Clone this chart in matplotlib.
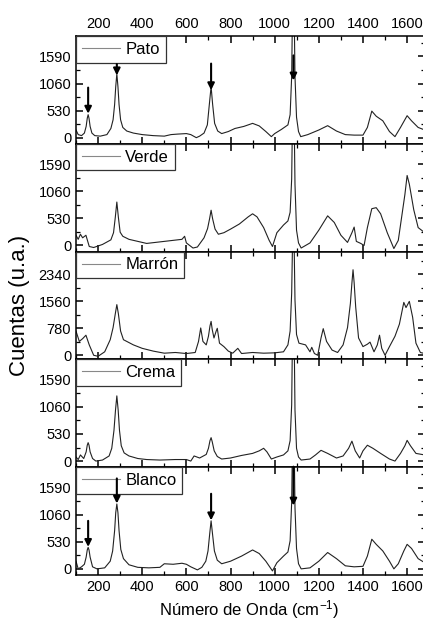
import matplotlib.pyplot as plt
from matplotlib.ticker import MultipleLocator

plt.rcParams['font.family'] = ['Liberation Sans', 'DejaVu Sans']
plt.rcParams['mathtext.default'] = 'regular'

# spectra (x in cm-1, y in counts)
pato_x = [100, 110, 125, 138, 146, 151, 155, 159, 164, 172, 185, 210, 240, 258, 268, 275, 280, 285, 290, 295,
          302, 312, 330, 360, 400, 450, 500, 530, 560, 600, 620, 645, 660, 680, 695, 704, 712, 719, 728, 742,
          760, 790, 820, 860, 900, 930, 960, 985, 1000, 1030, 1060, 1070, 1077, 1081, 1088, 1092, 1099, 1108,
          1118, 1150, 1200, 1240, 1280, 1320, 1360, 1400, 1420, 1440, 1460, 1490, 1520, 1545, 1570, 1600,
          1620, 1650, 1680]
pato_y = [150, 60, 40, 90, 220, 380, 450, 380, 220, 90, 40, 30, 60, 180, 350, 650, 1000, 1250, 1000, 650,
          350, 200, 130, 90, 60, 40, 30, 60, 70, 80, 60, 0, 30, 90, 250, 650, 1000, 650, 280, 130,
          80, 120, 180, 220, 280, 230, 120, 20, 80, 160, 250, 450, 1200, 2600, 2600, 1200, 400, 120,
          20, 60, 150, 235, 130, 60, 50, 50, 200, 520, 420, 330, 120, 20, 200, 430,
          330, 200, 150]

verde_x = [100, 110, 120, 130, 145, 160, 180, 220, 258, 270, 278, 285, 292, 300, 312, 340, 380, 420, 460, 500,
           540, 580, 592, 600, 630, 650, 680, 696, 705, 712, 719, 730, 745, 770, 800, 840, 880, 900, 920, 950,
           975, 990, 1010, 1040, 1060, 1070, 1077, 1081, 1088, 1092, 1099, 1108, 1120, 1160, 1200, 1240, 1270,
           1300, 1330, 1350, 1360, 1370, 1390, 1405, 1420, 1440, 1460, 1480, 1510, 1540, 1560, 1580, 1590,
           1600, 1610, 1630, 1650, 1680]
verde_y = [200, 120, 220, 150, 200, -20, -40, 20, 110, 250, 550, 850, 550, 260, 180, 120, 80, 40, 60, 80,
           100, 120, 180, 50, -50, -30, 150, 330, 520, 690, 520, 320, 220, 250, 320, 420, 560, 620, 560, 350,
           100, -20, 250, 400, 480, 650, 1300, 2600, 2600, 1200, 300, 50, -50, 50, 300, 580, 450,
           200, 60, 250, 360, 80, 40, 0, 350, 720, 740, 620, 250, -60, 100, 700, 1000,
           1370, 1200, 700, 350, 250]

marron_x = [100, 115, 130, 145, 160, 180, 200, 230, 255, 268, 278, 285, 292, 302, 315, 330, 360, 400, 450, 500,
            550, 600, 640, 655, 665, 675, 690, 700, 707, 712, 717, 725, 735, 740, 750, 770, 790, 810, 833, 850,
            900, 950, 1000, 1040, 1060, 1070, 1077, 1081, 1088, 1092, 1099, 1110, 1140, 1160, 1168, 1180, 1195,
            1210, 1220, 1235, 1260, 1285, 1310, 1330, 1343, 1350, 1355, 1360, 1367, 1380, 1400, 1420, 1432, 1450,
            1465, 1475, 1485, 1500, 1520, 1545, 1565, 1585, 1595, 1610, 1625, 1640, 1660, 1680]
marron_y = [700, 400, 480, 580, 300, 0, -30, 100, 450, 800, 1200, 1465, 1200, 700, 450, 400, 300, 200, 120, 60,
            80, 50, 80, 400, 790, 400, 300, 550, 850, 980, 750, 500, 700, 780, 350, 250, 120, 60, 200, 50,
            80, 60, 70, 100, 300, 700, 1800, 3300, 3300, 1600, 600, 350, 300, 100, 230, 50, 0,
            500, 770, 400, 150, 80, 300, 800, 1500, 2100, 2475, 2100, 1400, 500, 250, 320, 380, 100,
            300, 580, 200, 0, 250, 550, 900, 1530, 1380, 1560, 1100, 350, 80, 50]

crema_x = [100, 110, 120, 135, 146, 151, 155, 159, 164, 175, 190, 220, 250, 262, 272, 279, 285, 291, 297, 305,
           318, 340, 380, 420, 480, 550, 600, 620, 635, 660, 690, 700, 707, 712, 717, 726, 740, 760, 800, 850,
           900, 930, 950, 965, 985, 1010, 1040, 1060, 1070, 1077, 1081, 1088, 1092, 1099, 1108, 1120, 1160,
           1185, 1210, 1240, 1280, 1310, 1335, 1350, 1365, 1385, 1400, 1420, 1445, 1480, 1520, 1545, 1570,
           1590, 1600, 1615, 1640, 1680]
crema_y = [80, 30, 120, 50, 180, 310, 360, 310, 180, 50, 0, 20, 100, 250, 600, 1000, 1276, 1000, 600, 300,
           160, 100, 50, 30, 20, 30, 30, 0, 100, 60, 130, 250, 400, 458, 380, 200, 90, 40, 60, 110,
           150, 200, 250, 180, 40, 80, 120, 200, 400, 1100, 2600, 2600, 1000, 250, 80, 20, 40,
           120, 210, 150, 60, 100, 250, 390, 200, 60, 200, 310, 250, 150, 40, 0, 150,
           300, 405, 300, 150, 120]

blanco_x = [100, 110, 125, 138, 146, 151, 155, 159, 164, 175, 195, 230, 255, 266, 275, 280, 285, 290, 295, 303,
            315, 340, 380, 430, 480, 500, 540, 580, 600, 620, 650, 670, 688, 698, 706, 712, 718, 727, 740, 760,
            800, 850, 900, 930, 960, 990, 1010, 1040, 1060, 1070, 1077, 1081, 1088, 1092, 1099, 1108, 1120,
            1160, 1200, 1240, 1280, 1320, 1360, 1400, 1420, 1440, 1460, 1490, 1520, 1540, 1560, 1585, 1600,
            1620, 1650, 1680]
blanco_y = [150, 0, 40, 90, 230, 370, 420, 370, 230, 40, 0, 20, 150, 350, 750, 1100, 1270, 1100, 750, 380,
            200, 80, 30, 20, 30, 100, 90, 110, 90, 40, -20, 30, 150, 350, 700, 940, 700, 350, 170, 100,
            150, 250, 370, 300, 150, -40, 120, 250, 330, 550, 1300, 2600, 2600, 1200, 400, 100, 0,
            20, 150, 320, 200, 60, 40, 50, 250, 580, 480, 350, 150, 0, 100, 350, 480,
            400, 200, 120]

names = ['Pato', 'Verde', 'Marrón', 'Crema', 'Blanco']
xs = [pato_x, verde_x, marron_x, crema_x, blanco_x]
ys = [pato_y, verde_y, marron_y, crema_y, blanco_y]
y_step = [530, 530, 780, 530, 530]
y_top = [1990, 1990, 3000, 1990, 1990]

# arrows: (x, y_start, y_end)
pato_arrows = [(155, 980, 470), (285, 1440, 1220), (712, 1450, 930), (1085, 1610, 1120)]
blanco_arrows = [(155, 940, 430), (285, 1770, 1280), (712, 1470, 950), (1085, 2000, 1240)]

fig = plt.figure(figsize=(4.23, 6.26), dpi=100)
left, right = 76 / 423, 425 / 423
top, h = 1 - 36 / 626, 107.8 / 626

axes = []
for i in range(5):
    ax = fig.add_axes([left, top - (i + 1) * h, right - left, h])
    ax.plot(xs[i], ys[i], color='#222222', lw=0.8, label=names[i])
    ax.set_xlim(100, 1681)
    ax.set_ylim(-120, y_top[i])
    ax.xaxis.set_major_locator(MultipleLocator(200))
    ax.xaxis.set_minor_locator(MultipleLocator(100))
    ax.yaxis.set_minor_locator(MultipleLocator(y_step[i] / 2))
    ax.set_yticks([0, y_step[i], 2 * y_step[i], 3 * y_step[i]])
    ax.tick_params(which='both', direction='in', top=True, right=True, labelsize=10.5)
    ax.tick_params(which='major', length=5, width=1.1)
    ax.tick_params(which='minor', length=3, width=0.9)
    ax.tick_params(axis='x', labelbottom=(i == 4), labeltop=(i == 0))
    for s in ax.spines.values():
        s.set_linewidth(1.1)
    leg = ax.legend(loc='upper left', borderaxespad=0, fancybox=False, framealpha=1,
                    edgecolor='#333333', fontsize=12, handlelength=2.3, handletextpad=0.3,
                    borderpad=0.35)
    leg.get_frame().set_linewidth(0.9)
    leg.get_lines()[0].set_color('#888888')
    axes.append(ax)

for ax, arrows in [(axes[0], pato_arrows), (axes[4], blanco_arrows)]:
    for x, y0, y1 in arrows:
        ax.annotate('', xy=(x, y1), xytext=(x, y0), zorder=6,
                    arrowprops=dict(arrowstyle='-|>', color='black', lw=1.5,
                                    mutation_scale=10, shrinkA=0, shrinkB=0))

fig.text(0.047, 0.512, 'Cuentas (u.a.)', rotation=90, ha='center', va='center', fontsize=16)
fig.text((left + 1) / 2, 0.026, 'Número de Onda (cm$^{-1}$)', ha='center', va='center', fontsize=12)

fig.savefig('out.png', dpi=100)
